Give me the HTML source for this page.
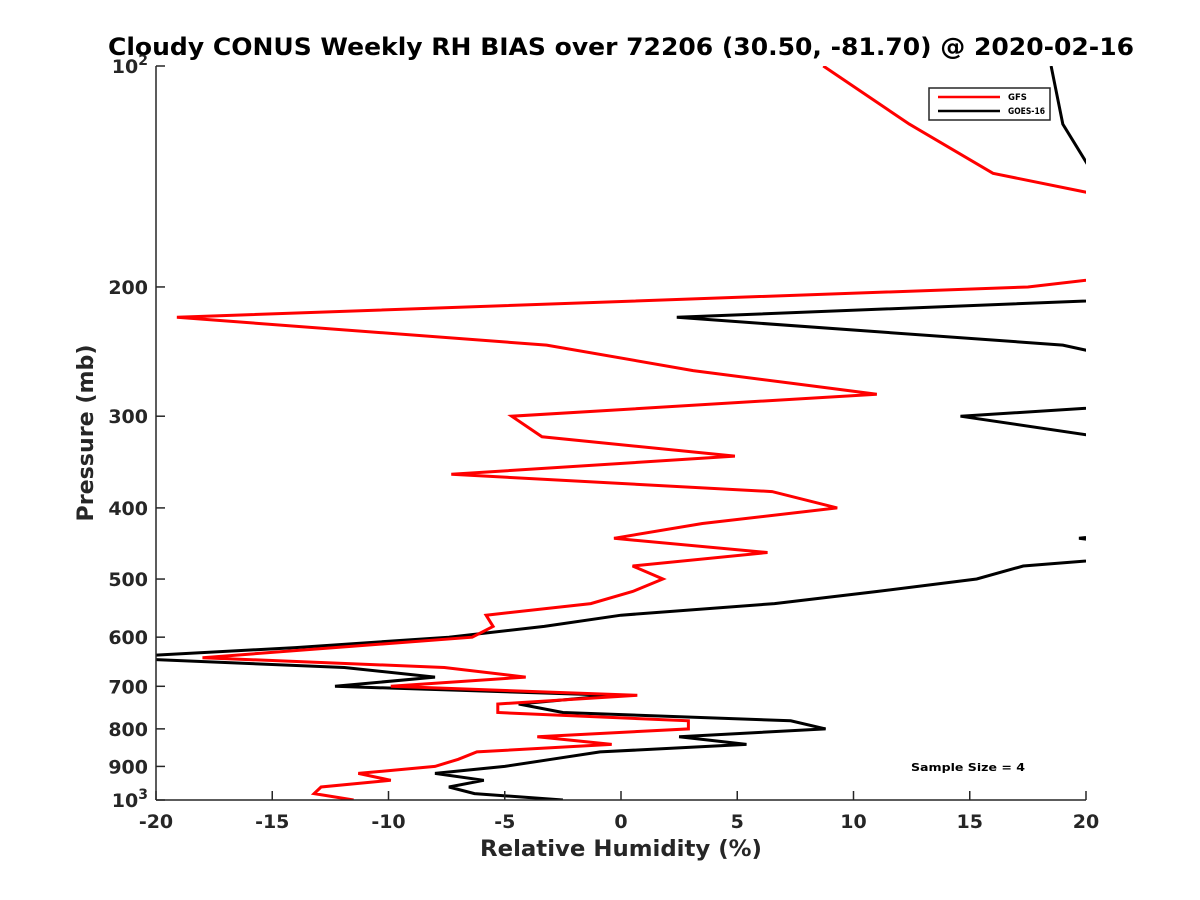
<!DOCTYPE html>
<html><head><meta charset="utf-8"><style>
html,body{margin:0;padding:0;background:#fff;}
svg{display:block;font-family:"DejaVu Sans","Liberation Sans",sans-serif;}
</style></head><body>
<svg id="chart" width="1200" height="900" viewBox="0 0 1200 900">
<defs><clipPath id="plotclip"><rect x="156" y="66" width="930" height="734"/></clipPath></defs>
<rect width="1200" height="900" fill="#fff"/>
<text x="621" y="55" text-anchor="middle" font-size="24" font-weight="bold" fill="#000" textLength="1026" lengthAdjust="spacingAndGlyphs">Cloudy CONUS Weekly RH BIAS over 72206 (30.50, -81.70) @ 2020-02-16</text>
<g id="series" clip-path="url(#plotclip)"></g>
<g id="axes"></g>
<g>
<rect x="929" y="88" width="121" height="32" fill="#fff" stroke="#262626" stroke-width="1.5"/>
<line x1="938" y1="97" x2="1000" y2="97" stroke="#ff0000" stroke-width="2.5"/>
<text x="1008" y="100" font-size="8.5" font-weight="bold" fill="#000">GFS</text>
<line x1="938" y1="111" x2="1000" y2="111" stroke="#000" stroke-width="2.5"/>
<text x="1008" y="114" font-size="8.5" font-weight="bold" fill="#000" textLength="37" lengthAdjust="spacingAndGlyphs">GOES-16</text>
</g>
<text x="911" y="771" font-size="11" font-weight="bold" fill="#000" textLength="114" lengthAdjust="spacingAndGlyphs">Sample Size = 4</text>
<text x="621" y="856" text-anchor="middle" font-size="22" font-weight="bold" fill="#262626" textLength="282" lengthAdjust="spacingAndGlyphs">Relative Humidity (%)</text>
<text transform="translate(93,433) rotate(-90)" text-anchor="middle" font-size="22" font-weight="bold" fill="#262626" textLength="177" lengthAdjust="spacingAndGlyphs">Pressure (mb)</text>
</svg>
<script>
const gfsPressure = [100,120,140,160,180,200,220,240,260,280,300,320,340,360,380,400,420,440,460,480,500,520,540,560,580,600,640,660,680,700,720,740,760,780,800,820,840,860,880,900,920,940,960,980,1000];
const gfsValues = [8.7,12.4,16.0,25,30,17.5,-19.1,-3.2,3.1,11.0,-4.7,-3.4,4.9,-7.3,6.5,9.3,3.5,-0.3,6.3,0.5,1.8,0.5,-1.3,-5.8,-5.5,-6.4,-18.0,-7.6,-4.1,-9.9,0.7,-5.3,-5.3,2.9,2.9,-3.6,-0.4,-6.2,-7.0,-8.0,-11.3,-9.9,-12.9,-13.2,-11.5];
const goesPressure = [100,120,140,160,180,200,220,240,260,280,300,320,340,360,380,400,420,440,460,480,500,520,540,560,580,600,620,640,660,680,700,720,740,760,780,800,820,840,860,880,900,920,940,960,980,1000];
const goesValues = [18.5,19.0,20.3,30,30,35,2.4,19.0,24,29.6,14.6,20.6,25,25,25,25,25,19.7,24.6,17.3,15.3,11,6.6,0.0,-3.3,-7.4,-14,-22,-11.9,-8.0,-12.3,-0.3,-4.4,-2.5,7.3,8.8,2.5,5.4,-0.9,-3.0,-5.0,-8.0,-5.9,-7.4,-6.3,-2.5];
const xTicks = [-20,-15,-10,-5,0,5,10,15,20];
const yTicks = [100,200,300,400,500,600,700,800,900,1000];
const yTickLabels = ["10|2","200","300","400","500","600","700","800","900","10|3"];

const X0=156,X1=1086,Y0=66,Y1=800;
function xs(v){return X0+(v+20)/40*(X1-X0);}
function ys(p){return Y0+Math.log10(p/100)*(Y1-Y0);}
const NS="http://www.w3.org/2000/svg";
const series=document.getElementById('series');
function drawLine(ps,vs,color,name){
  const pl=document.createElementNS(NS,'polyline');
  pl.setAttribute('points',ps.map((p,i)=>xs(vs[i]).toFixed(1)+','+ys(p).toFixed(1)).join(' '));
  pl.setAttribute('fill','none');pl.setAttribute('stroke',color);pl.setAttribute('stroke-width','3');
  pl.setAttribute('stroke-linejoin','miter');
  
  
  series.appendChild(pl);
}
drawLine(goesPressure,goesValues,'#000','goes-16-line');
drawLine(gfsPressure,gfsValues,'#ff0000','gfs-line');

const axes=document.getElementById('axes');
function mk(tag,attrs){const e=document.createElementNS(NS,tag);for(const k in attrs)e.setAttribute(k,attrs[k]);axes.appendChild(e);return e;}
const xl=mk('line',{x1:X0,y1:Y1,x2:X1,y2:Y1,stroke:'#262626','stroke-width':1.5});


const yl=mk('line',{x1:X0,y1:Y0,x2:X0,y2:Y1,stroke:'#262626','stroke-width':1.5});


xTicks.forEach(t=>{
  const tk=mk('line',{x1:xs(t),y1:Y1,x2:xs(t),y2:Y1-9,stroke:'#262626','stroke-width':1.5});
  
  
  const tx=mk('text',{x:xs(t),y:Y1+28,'text-anchor':'middle','font-size':19,'font-weight':'bold',fill:'#262626'});
  tx.textContent=String(t);
  
  
});
yTicks.forEach((t,i)=>{
  const tk=mk('line',{x1:X0,y1:ys(t),x2:X0+9,y2:ys(t),stroke:'#262626','stroke-width':1.5});
  
  
  const tx=mk('text',{x:X0-8,y:ys(t)+7,'text-anchor':'end','font-size':19,'font-weight':'bold',fill:'#262626'});
  const parts=yTickLabels[i].split('|');
  tx.appendChild(document.createTextNode(parts[0]));
  if(parts.length>1){
    const sp=document.createElementNS(NS,'tspan');
    sp.setAttribute('dy','-8');sp.setAttribute('font-size','14');
    sp.textContent=parts[1];
    tx.appendChild(sp);
  }
  
  
});
</script>
</body></html>
